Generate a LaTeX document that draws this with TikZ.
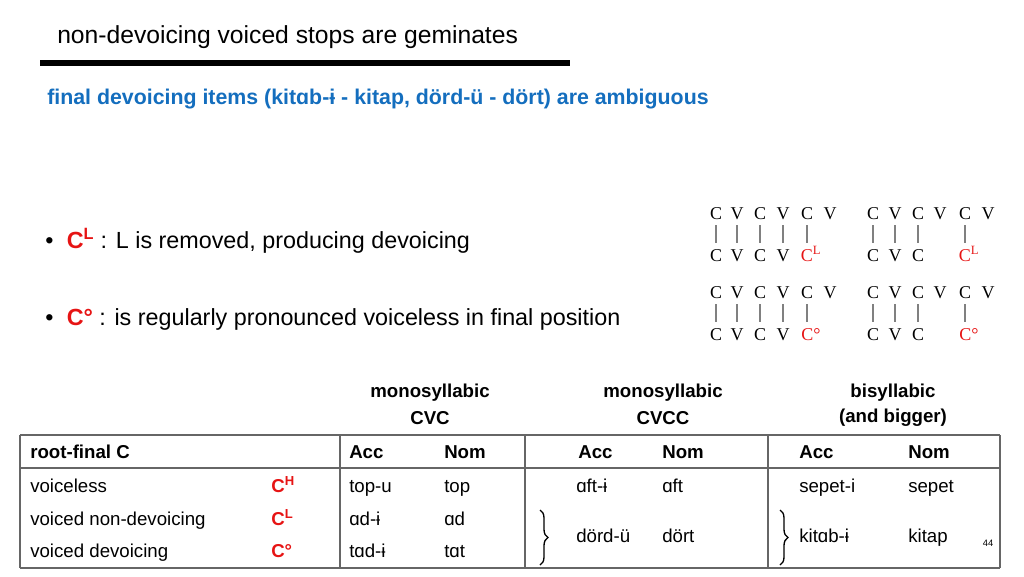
\documentclass[tikz,border=0pt]{standalone}
\usepackage{fontspec}
\setmainfont{Liberation Sans}
\newfontfamily\serifcv{Liberation Serif}
\usetikzlibrary{decorations.pathreplacing}
\definecolor{tblue}{RGB}{20,110,190}
\definecolor{tred}{RGB}{230,20,20}
\begin{document}
\begin{tikzpicture}[x=0.75pt,y=-0.75pt,
  txt/.style={anchor=base west,inner sep=0,font=\fontsize{14}{16}\selectfont},
  hd/.style={txt,font=\fontsize{14}{16}\selectfont\bfseries},
  ch/.style={anchor=center,inner sep=0,font=\fontsize{14}{16}\selectfont\bfseries},
  cv/.style={anchor=base,inner sep=0,font=\serifcv\fontsize{13.5}{15}\selectfont},
  rd/.style={text=tred}]
\useasboundingbox (0,0) rectangle (1024,576);
\node[txt,font=\fontsize{18.5}{22}\selectfont] (title) at (57,43) {non-devoicing voiced stops are geminates};
\draw[line width=4pt] (40,63) -- (570,63);
\node[txt,font=\fontsize{16}{19}\selectfont\bfseries,text=tblue] (sub) at (47,104) {final devoicing items (kitɑb-ɨ - kitap, dörd-ü - dört) are ambiguous};
% bullets
\node[txt,font=\fontsize{17.5}{20}\selectfont] (b1) at (45,248) {•\hspace{10pt}{\color{tred}\bfseries C\textsuperscript{L}} : L is removed, producing devoicing};
\node[txt,font=\fontsize{17.5}{20}\selectfont] (b2) at (45,325) {•\hspace{10pt}{\color{tred}\bfseries C°} : is regularly pronounced voiceless in final position};
% CV diagrams
\foreach \yy in {219,298}{
  \foreach \x/\l in {716/C,737/V,760/C,783/V,807/C,830/V,873/C,895/V,918/C,940/V,965/C,988/V}
    \node[cv] at (\x,\yy) {\l};
  \foreach \x/\l in {716/C,737/V,760/C,783/V,873/C,895/V,918/C}
    \node[cv] at (\x,\yy+42) {\l};
  \foreach \x in {716,737,760,783,807,873,895,918,965}
    \draw[gray,line width=0.8pt] (\x,\yy+6) -- (\x,\yy+24);
}
\node[cv,rd] (e1) at (811,261) {C\textsuperscript{L}};
\node[cv,rd] (f1) at (969,261) {C\textsuperscript{L}};
\node[cv,rd] (e2) at (811,340) {C°};
\node[cv,rd] (f2) at (969,340) {C°};
% headings
\node[ch] (h1) at (430,393) {monosyllabic};
\node[ch] (h1b) at (430,418) {CVC};
\node[ch] (h2) at (663,393) {monosyllabic};
\node[ch] (h2b) at (663,418) {CVCC};
\node[ch] (h3) at (893,393) {bisyllabic};
\node[ch] (h3b) at (893,418) {(and bigger)};
% table lines
\draw[gray!80!black,line width=1pt] (20,435) -- (1000,435) (20,468) -- (1000,468) (20,568) -- (1000,568)
  (20,435) -- (20,568) (1000,435) -- (1000,568)
  (340,435) -- (340,568) (525,435) -- (525,568) (768,435) -- (768,568);
% header row
\node[hd] (r0) at (30,458) {root-final C};
\node[hd] (a0) at (349,458) {Acc};
\node[hd] (n0) at (444,458) {Nom};
\node[hd] (a0b) at (578,458) {Acc};
\node[hd] (n0b) at (662,458) {Nom};
\node[hd] (a0c) at (799,458) {Acc};
\node[hd] (n0c) at (908,458) {Nom};
% rows
\node[txt] (r1) at (30,492) {voiceless};
\node[txt] (r2) at (30,525) {voiced non-devoicing};
\node[txt] (r3) at (30,557) {voiced devoicing};
\node[txt,font=\fontsize{14}{16}\selectfont\bfseries,rd] (s1) at (271,492) {C\textsuperscript{H}};
\node[txt,font=\fontsize{14}{16}\selectfont\bfseries,rd] (s2) at (271,525) {C\textsuperscript{L}};
\node[txt,font=\fontsize{14}{16}\selectfont\bfseries,rd] (s3) at (271,557) {C°};
\node[txt] (x1) at (349,492) {top-u};
\node[txt] (y1) at (444,492) {top};
\node[txt] (x2) at (349,525) {ɑd-ɨ};
\node[txt] (y2) at (444,525) {ɑd};
\node[txt] (x3) at (349,557) {tɑd-ɨ};
\node[txt] (y3) at (444,557) {tɑt};
\node[txt] (p1) at (576,492) {ɑft-ɨ};
\node[txt] (q1) at (662,492) {ɑft};
\node[txt] (p2) at (576,542) {dörd-ü};
\node[txt] (q2) at (662,542) {dört};
\node[txt] (u1) at (799,492) {sepet-i};
\node[txt] (v1) at (908,492) {sepet};
\node[txt] (u2) at (799,542) {kitɑb-ɨ};
\node[txt] (v2) at (908,542) {kitap};
\draw[line width=1pt,decorate,decoration={brace,amplitude=6pt}] (540,510) -- (540,565);
\draw[line width=1pt,decorate,decoration={brace,amplitude=6pt}] (780,510) -- (780,565);
\node[anchor=center,inner sep=0,font=\fontsize{7}{8}\selectfont] (pg) at (988,543) {44};
\end{tikzpicture}
\end{document}
